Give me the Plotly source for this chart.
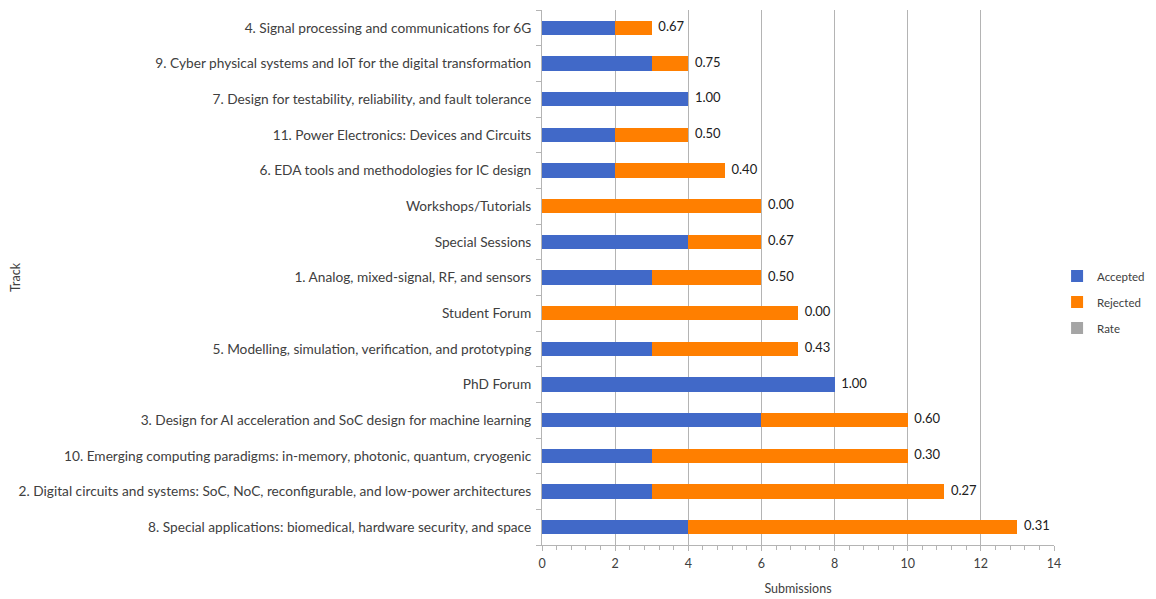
import plotly.graph_objects as go

tracks = [
    "8. Special applications: biomedical, hardware security, and space",
    "2. Digital circuits and systems: SoC, NoC, reconfigurable, and low-power architectures",
    "10. Emerging computing paradigms: in-memory, photonic, quantum, cryogenic",
    "3. Design for AI acceleration and SoC design for machine learning",
    "PhD Forum",
    "5. Modelling, simulation, verification, and prototyping",
    "Student Forum",
    "1. Analog, mixed-signal, RF, and sensors",
    "Special Sessions",
    "Workshops/Tutorials",
    "6. EDA tools and methodologies for IC design",
    "11. Power Electronics: Devices and Circuits",
    "7. Design for testability, reliability, and fault tolerance",
    "9. Cyber physical systems and IoT for the digital transformation",
    "4. Signal processing and communications for 6G",
]
accepted = [4, 3, 3, 6, 8, 3, 0, 3, 4, 0, 2, 2, 4, 3, 2]
rejected = [9, 8, 7, 4, 0, 4, 7, 3, 2, 6, 3, 2, 0, 1, 1]
rate = [0.31, 0.27, 0.30, 0.60, 1.00, 0.43, 0.00, 0.50, 0.67, 0.00, 0.40, 0.50, 1.00, 0.75, 0.67]
x_ticks = [0, 2, 4, 6, 8, 10, 12, 14]

totals = [a + r for a, r in zip(accepted, rejected)]
FONT = "Lato"
TXT = "#404040"

fig = go.Figure()
fig.add_trace(go.Bar(y=tracks, x=accepted, name="Accepted", orientation="h", legendgroup="a",
                     marker=dict(color="#4169C8", line=dict(width=0))))
fig.add_trace(go.Bar(y=tracks, x=rejected, name="Rejected", orientation="h", legendgroup="r",
                     marker=dict(color="#FF7F00", line=dict(width=0))))
fig.add_trace(go.Bar(y=tracks, x=[0] * len(tracks), name="Rate", orientation="h", legendgroup="t",
                     marker=dict(color="#A5A5A5", line=dict(width=0)), hoverinfo="skip"))
fig.add_trace(go.Scatter(y=tracks, x=totals, mode="text",
                         text=["  " + f"{r:.2f}" for r in rate], textposition="middle right",
                         textfont=dict(family=FONT, size=13, color="#202020"),
                         showlegend=False, cliponaxis=False))

fig.update_layout(
    width=1148, height=591,
    barmode="stack", bargap=0.6,
    plot_bgcolor="white", paper_bgcolor="white",
    margin=dict(l=534, r=102, t=2, b=54, autoexpand=False),
    font=dict(family=FONT, size=12, color=TXT),
    legend=dict(x=1.006, y=0.454, xanchor="left", yanchor="middle",
                traceorder="grouped", font=dict(size=11.5, color=TXT),
                itemwidth=30, tracegroupgap=7),
    xaxis=dict(range=[0, 14], tickvals=x_ticks, showgrid=True, gridcolor="#B4B4B4",
               gridwidth=1, showline=True, linecolor="#B4B4B4", zeroline=False,
               ticks="outside", ticklen=5, tickcolor="#B4B4B4", automargin=False,
               minor=dict(dtick=0.4, ticks="outside", ticklen=4, tickcolor="#B4B4B4"),
               ticklabelstandoff=2,
               title=dict(text="Submissions", font=dict(size=12.5), standoff=14),
               tickfont=dict(size=12.5)),
    yaxis=dict(categoryorder="array", categoryarray=tracks, range=[-0.5, len(tracks) - 0.5],
               showline=True, linecolor="#B4B4B4", ticks="outside", tickson="boundaries",
               ticklen=5, tickcolor="#B4B4B4", showgrid=False, ticklabelstandoff=7,
               title=dict(text="Track", font=dict(size=12.5), standoff=0),
               tickfont=dict(size=13.7), automargin=False),
)

fig.write_html("out.html")
